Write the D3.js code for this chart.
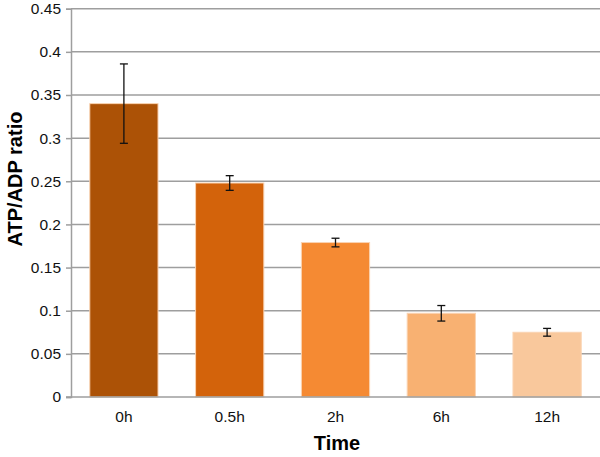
<!DOCTYPE html>
<html>
<head>
<meta charset="utf-8">
<script src="https://cdn.jsdelivr.net/npm/d3@7"></script>
<style>
  body { margin: 0; background: #fff; }
  svg { display: block; font-family: "Liberation Sans", Arial, sans-serif; }
</style>
</head>
<body>
<svg id="chart" width="600" height="457"></svg>
<script>
const categories = ["0h", "0.5h", "2h", "6h", "12h"];
const values = [0.34, 0.248, 0.179, 0.097, 0.075];
const errors = [0.046, 0.0085, 0.005, 0.009, 0.0045];
const colors = ["#AC5206", "#D3630B", "#F58A33", "#F8B172", "#F9C89C"];
const yTicks = [0, 0.05, 0.1, 0.15, 0.2, 0.25, 0.3, 0.35, 0.4, 0.45];

const svg = d3.select("#chart");
const margin = { left: 71, right: 0, top: 9, bottom: 60 };
const W = 600, H = 457;
const x = d3.scaleBand().domain(categories).range([margin.left, W - margin.right]).paddingInner(0.355).paddingOuter(0.1775);
const y = d3.scaleLinear().domain([0, 0.45]).range([397, 8.7]);

// gridlines
svg.append("g").selectAll("line").data(yTicks.filter(d => d > 0)).join("line")
  .attr("x1", margin.left).attr("x2", W)
  .attr("y1", d => y(d)).attr("y2", d => y(d))
  .attr("stroke", "#9e9e9e").attr("stroke-width", 1.5);

// bars
svg.append("g").selectAll("rect").data(values).join("rect")
  .attr("x", (d, i) => x(categories[i]))
  .attr("width", x.bandwidth())
  .attr("y", d => y(d))
  .attr("height", d => y(0) - y(d))
  .attr("fill", (d, i) => colors[i])
  .attr("stroke", "#FAD3B2").attr("stroke-width", 1);

// y axis
const yAxis = d3.axisLeft(y).tickValues(yTicks).tickSize(5).tickPadding(5)
  .tickFormat(d => d3.format("")(+d.toFixed(2)));
const gy = svg.append("g").attr("transform", `translate(${margin.left},0)`).call(yAxis);
gy.select(".domain").attr("stroke", "#9e9e9e").attr("stroke-width", 1.5);
gy.selectAll(".tick line").attr("stroke", "#9e9e9e").attr("stroke-width", 1.5);
gy.selectAll(".tick text").attr("font-size", 15.5).attr("fill", "#111").attr("font-family", "Liberation Sans, Arial, sans-serif");

// x axis
const xAxis = d3.axisBottom(x).tickSize(0).tickPadding(14);
const gx = svg.append("g").attr("transform", `translate(0,${y(0)})`).call(xAxis);
gx.select(".domain").attr("stroke", "#9e9e9e").attr("stroke-width", 1.5)
  .attr("d", `M${margin.left - 5},0H${W}`);
gx.selectAll(".tick text").attr("font-size", 15.5).attr("fill", "#111").attr("font-family", "Liberation Sans, Arial, sans-serif");

// error bars
const eb = svg.append("g").attr("stroke", "#111").attr("stroke-width", 1.3);
values.forEach((v, i) => {
  const cx = x(categories[i]) + x.bandwidth() / 2;
  const t = y(v + errors[i]), b = y(v - errors[i]);
  eb.append("line").attr("x1", cx).attr("x2", cx).attr("y1", t).attr("y2", b);
  eb.append("line").attr("x1", cx - 4).attr("x2", cx + 4).attr("y1", t).attr("y2", t);
  eb.append("line").attr("x1", cx - 4).attr("x2", cx + 4).attr("y1", b).attr("y2", b);
});

// titles
svg.append("text").attr("x", 337).attr("y", 450).attr("text-anchor", "middle")
  .attr("font-size", 20).attr("font-weight", "bold").attr("fill", "#000").text("Time");
svg.append("text").attr("transform", "translate(22,179) rotate(-90)").attr("text-anchor", "middle")
  .attr("font-size", 20).attr("font-weight", "bold").attr("fill", "#000").text("ATP/ADP ratio");
</script>
</body>
</html>
